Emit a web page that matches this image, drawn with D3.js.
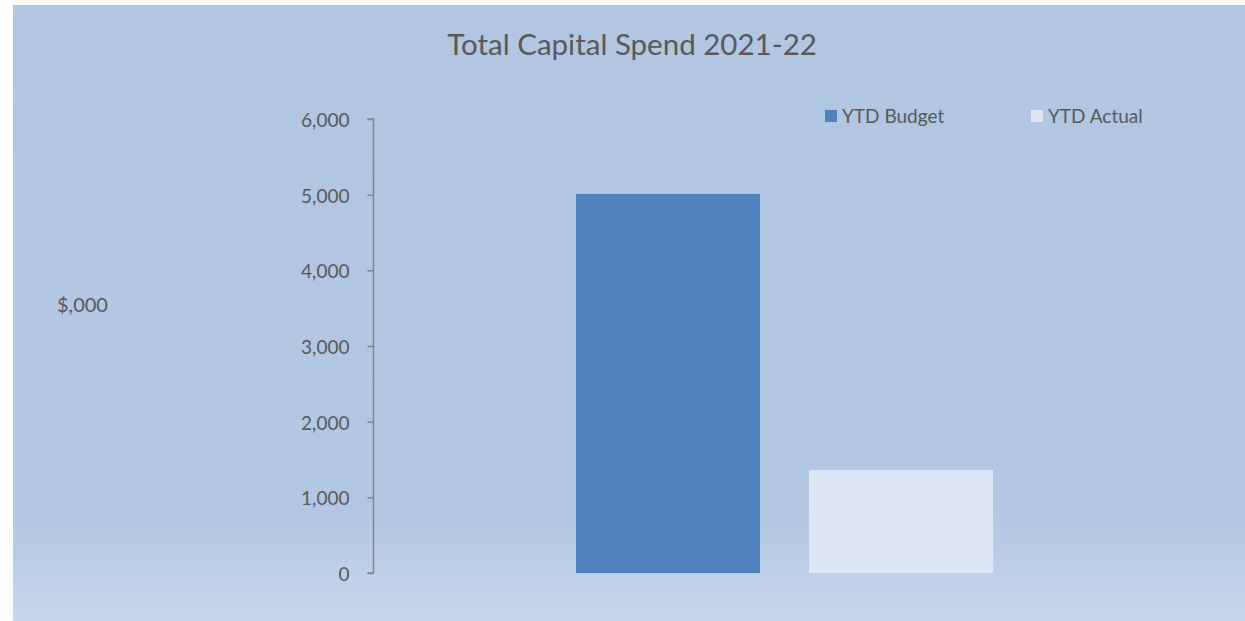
<!DOCTYPE html>
<html>
<head>
<meta charset="utf-8">
<script src="https://cdn.jsdelivr.net/npm/d3@7"></script>
<style>
  html, body { margin: 0; padding: 0; background: #ffffff; }
  svg { display: block; }
  text { font-family: Lato, "Open Sans", sans-serif; fill: #595959; }
</style>
</head>
<body>
<svg id="chart" width="1245" height="621"></svg>
<script>
const title = "Total Capital Spend 2021-22";
const yAxisLabel = "$,000";
const categories = ["Total Capital Spend 2021-22"];
const seriesNames = ["YTD Budget", "YTD Actual"];
const seriesValues = [5010, 1360];
const seriesColors = ["#4F81BD", "#DCE6F2"];
const yTicks = [0, 1000, 2000, 3000, 4000, 5000, 6000];

const svg = d3.select("#chart");

const defs = svg.append("defs");
const grad = defs.append("linearGradient").attr("id", "bg").attr("x1", 0).attr("y1", 0).attr("x2", 0).attr("y2", 1);
grad.append("stop").attr("offset", "0").attr("stop-color", "#B0C6E1");
grad.append("stop").attr("offset", "0.82").attr("stop-color", "#B1C7E2");
grad.append("stop").attr("offset", "1").attr("stop-color", "#C6D7EA");

svg.append("rect").attr("x", 13).attr("y", 5).attr("width", 1232).attr("height", 616).attr("fill", "url(#bg)");

const y = d3.scaleLinear().domain([0, 6000]).range([573, 119]);
const x0 = d3.scaleBand().domain(categories).range([374, 1195]);
const x1 = d3.scaleBand().domain(seriesNames)
  .range([x0(categories[0]), x0(categories[0]) + x0.bandwidth()])
  .paddingInner(0.21).paddingOuter(0.867);

// bars
svg.append("g").selectAll("rect")
  .data(seriesNames.map((s, i) => ({ s, v: seriesValues[i], c: seriesColors[i] })))
  .join("rect")
  .attr("x", d => x1(d.s))
  .attr("width", x1.bandwidth())
  .attr("y", d => y(d.v))
  .attr("height", d => y(0) - y(d.v))
  .attr("fill", d => d.c);

// y axis
const yAxis = d3.axisLeft(y).tickValues(yTicks).tickSize(6).tickPadding(18)
  .tickFormat(d3.format(","));
const gy = svg.append("g").attr("transform", "translate(373.5,0)").call(yAxis);
gy.select(".domain").attr("stroke", "#868686").attr("stroke-width", 1.5)
  .attr("d", `M-6,${y(6000)}H0V${y(0)}H-6`);
gy.selectAll(".tick line").attr("stroke", "#868686").attr("stroke-width", 1.5);
gy.selectAll(".tick text").style("font-family", "Lato, 'Open Sans', sans-serif")
  .style("font-size", "19px").attr("fill", "#595959").attr("dy", "0.4em");

// axis title
svg.append("text").attr("x", 57).attr("y", 312)
  .style("font-size", "20px").text(yAxisLabel);

// title
svg.append("text").attr("x", 632).attr("y", 55).attr("text-anchor", "middle")
  .style("font-size", "29.5px").text(title);

// legend
const legendX = [825, 1031];
const lg = svg.append("g").selectAll("g").data(seriesNames).join("g")
  .attr("transform", (d, i) => `translate(${legendX[i]},110)`);
lg.append("rect").attr("width", 12).attr("height", 12).attr("fill", (d, i) => seriesColors[i]);
lg.append("text").attr("x", 17).attr("y", 12.5).style("font-size", "19px").text(d => d);
</script>
</body>
</html>
